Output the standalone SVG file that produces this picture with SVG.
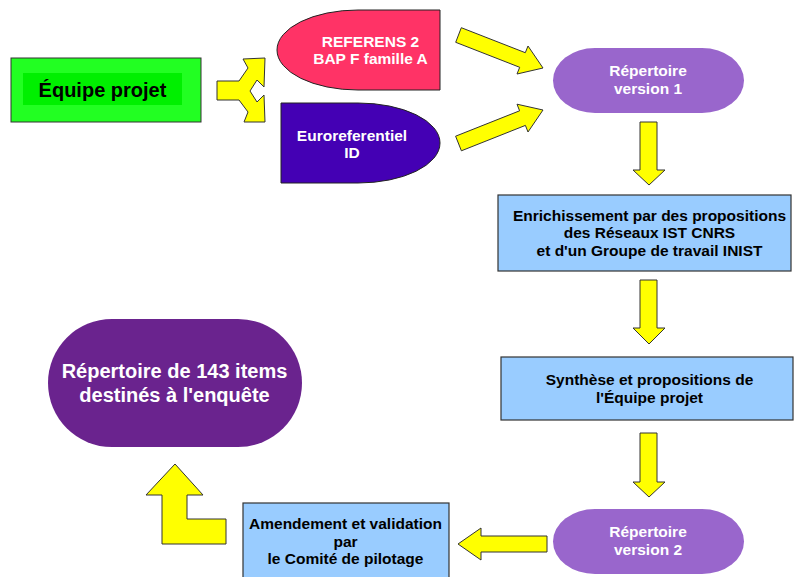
<svg xmlns="http://www.w3.org/2000/svg" width="794" height="577" viewBox="0 0 794 577">
<style>
text{font-family:"Liberation Sans",Arial,sans-serif;font-weight:bold;text-anchor:middle}
.t15{font-size:15.5px}
.w{fill:#ffffff}
.k{fill:#000000}
.box{fill:#99ccff;stroke:#333333;stroke-width:1.2}
.arr{fill:#ffff00;stroke:#333333;stroke-width:1}
.rep{fill:#9966cc}
</style>
<rect width="794" height="577" fill="#ffffff"/>
<g id="connectors">
<polygon class="arr" points="217,81 239,81 248,68 243,59 265,58 264,87 257,80 250,91 257,102 264,95 265,122 244,122 248,112 239,100 217,100"/>
<polygon class="arr" points="455.7,42.3 461.3,27.7 525.3,52.7 528,46 543,68 517,74 519.7,67.3"/>
<polygon class="arr" points="461.4,150.8 455.6,136.2 519.6,110.8 517,104.2 543,110 528,132 525.4,125.4"/>
<polygon class="arr" points="640,122 657,122 657,170 665,170 649,185 633,170 640,170"/>
<polygon class="arr" points="640,280 657,280 657,328 665,328 649,344 633,328 640,328"/>
<polygon class="arr" points="640,433 657,433 657,482 665,482 649,497 633,482 640,482"/>
<polygon class="arr" points="547,536 547,552 481,552 481,560 458,544 481,528 481,536"/>
<polygon class="arr" points="175,464 203,495 187,495 187,519 226,519 226,544 162,544 162,495 146,495"/>
</g>
<g id="equipe">
<rect x="11" y="58" width="190" height="64" fill="#22ff22" stroke="#333333" stroke-width="1"/>
<rect x="23" y="73" width="159" height="32" fill="#00f000"/>
<text x="102.5" y="97" class="k" style="font-size:20px">Équipe projet</text>
</g>
<g id="referens">
<path d="M440,10 L358,10 A81,40 0 0 0 358,90 L440,90 Z" fill="#ff3366" stroke="#222222" stroke-width="1"/>
<text class="t15 w" x="370.5" y="47">REFERENS 2</text>
<text class="t15 w" x="370.5" y="64">BAP F famille A</text>
</g>
<g id="euroref">
<path d="M281,103 L358,103 A82,40 0 0 1 358,183 L281,183 Z" fill="#4400b4" stroke="#222222" stroke-width="1"/>
<text class="t15 w" x="352" y="141">Euroreferentiel</text>
<text class="t15 w" x="352" y="158">ID</text>
</g>
<g id="rep1">
<rect class="rep" x="553" y="48" width="191" height="65" rx="42" ry="32.5"/>
<text class="t15 w" x="648" y="76">Répertoire</text>
<text class="t15 w" x="648" y="94">version 1</text>
</g>
<g id="enrich">
<rect class="box" x="498" y="195" width="293" height="76"/>
<text class="t15 k" x="649.5" y="221">Enrichissement par des propositions</text>
<text class="t15 k" x="649.5" y="238">des Réseaux IST CNRS</text>
<text class="t15 k" x="649.5" y="256">et d'un Groupe de travail INIST</text>
</g>
<g id="synthese">
<rect class="box" x="501" y="357" width="292" height="63"/>
<text class="t15 k" x="649.5" y="385">Synthèse et propositions de</text>
<text class="t15 k" x="649.5" y="403">l'Équipe projet</text>
</g>
<g id="rep2">
<rect class="rep" x="553" y="509" width="191" height="65" rx="42" ry="32.5"/>
<text class="t15 w" x="648" y="537">Répertoire</text>
<text class="t15 w" x="648" y="555">version 2</text>
</g>
<g id="amendement">
<rect class="box" x="243" y="503" width="206" height="80"/>
<text class="t15 k" x="345.5" y="529">Amendement et validation</text>
<text class="t15 k" x="345.5" y="547">par</text>
<text class="t15 k" x="345.5" y="564">le Comité de pilotage</text>
</g>
<g id="final">
<rect x="48" y="319" width="254" height="128" rx="64" ry="64" fill="#6a238e"/>
<text class="w" x="174.5" y="378" style="font-size:20px">Répertoire de 143 items</text>
<text class="w" x="174.5" y="402" style="font-size:20px">destinés à l'enquête</text>
</g>
</svg>
